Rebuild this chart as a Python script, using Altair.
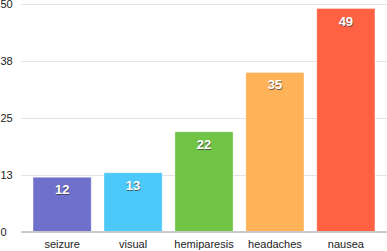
import altair as alt
import pandas as pd

categories = ["seizure", "visual", "hemiparesis", "headaches", "nausea"]
values = [12, 13, 22, 35, 49]
colors = ["#6F6FCC", "#4CC9F8", "#72C447", "#FFB257", "#FF6142"]
y_ticks = [0, 12.5, 25, 37.5, 50]

df = pd.DataFrame({"cat": categories, "val": values, "color": colors})

x = alt.X("cat:N", sort=categories, title=None,
          scale=alt.Scale(paddingInner=0.18, paddingOuter=0.17),
          axis=alt.Axis(labelAngle=0, labelFont="Liberation Sans", labelFontSize=11,
                        labelColor="#222222", ticks=False, domain=False, labelPadding=6))
y = alt.Y("val:Q", title=None,
          scale=alt.Scale(domain=[0, 50], nice=False),
          axis=alt.Axis(values=y_ticks, labelExpr="round(datum.value)",
                        labelFont="Liberation Sans", labelFontSize=11, labelColor="#222222",
                        labelAlign="left", labelPadding=21, ticks=False, domain=False,
                        grid=True, gridColor="#c8c8c8", gridDash=[1, 1], gridWidth=1))

base = alt.Chart(df)
bars = base.mark_bar(stroke="white", strokeOpacity=0.35, strokeWidth=1).encode(
    x=x, y=y, color=alt.Color("color:N", scale=None)
)
baseline = base.mark_rule(color="#c8c8c8", strokeWidth=1).encode(
    y=alt.datum(0), x=alt.value(0), x2=alt.value(366)
)
shadow = base.mark_text(font="Liberation Sans", fontSize=13, fontWeight="bold",
                        color="#333333", opacity=0.7, baseline="middle", dy=14, dx=0.5).encode(
    x=alt.X("cat:N", sort=categories), y="val:Q", text="val:Q"
)
labels = base.mark_text(font="Liberation Sans", fontSize=13, fontWeight="bold",
                        color="white", baseline="middle", dy=13).encode(
    x=alt.X("cat:N", sort=categories), y="val:Q", text="val:Q"
)

chart = alt.layer(bars, baseline, shadow, labels).properties(
    width=366, height=228,
    autosize=alt.AutoSizeParams(type="none"),
    padding={"left": 21, "top": 4, "right": 0, "bottom": 19},
).configure_view(stroke=None)

chart.save("out.html", embed_options={"renderer": "svg", "actions": False})
